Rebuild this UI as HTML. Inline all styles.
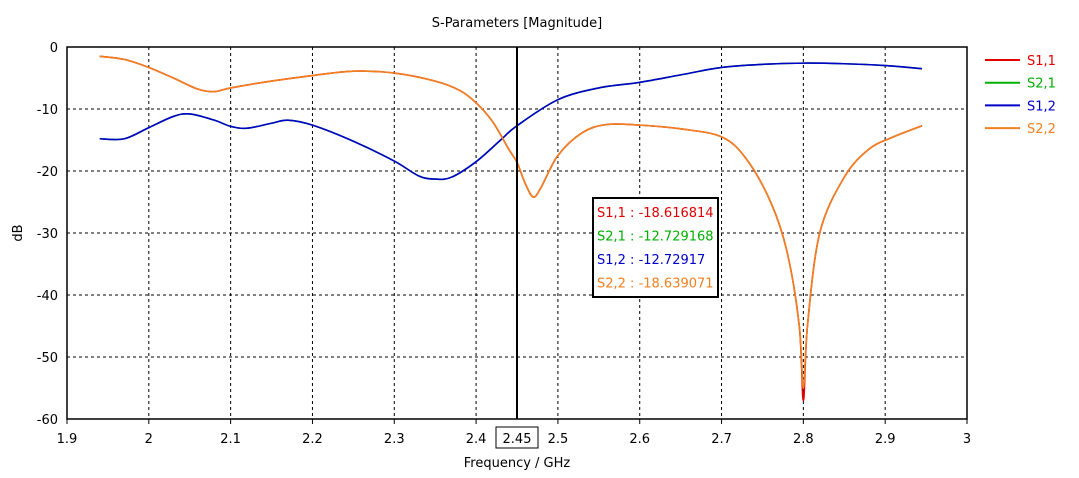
<!DOCTYPE html>
<html><head><meta charset="utf-8"><style>
body{margin:0;background:#fff;}
svg text{font-family:"DejaVu Sans","Liberation Sans",sans-serif;font-size:13px;}
</style></head><body>
<svg id="c" width="1079" height="473" viewBox="0 0 1079 473">
<rect width="1079" height="473" fill="#fff"/>
<text x="517" y="27" text-anchor="middle">S-Parameters [Magnitude]</text>
<text x="517" y="467" text-anchor="middle">Frequency / GHz</text>
<text transform="translate(22,233) rotate(-90)" text-anchor="middle">dB</text>
<g id="grid"></g>
<g id="series"></g>
<rect x="67" y="47" width="900" height="372" fill="none" stroke="#000" stroke-width="1.5"/>
<g id="ticks"></g>
<g id="legend"></g>
<g id="marker"></g>
</svg>
<script>
const xTicks=[1.9,2,2.1,2.2,2.3,2.4,2.5,2.6,2.7,2.8,2.9,3];
const yTicks=[0,-10,-20,-30,-40,-50,-60];
const seriesNames=["S1,1","S2,1","S1,2","S2,2"];
const seriesColors=["#e00000","#00b000","#0000c8","#f08020"];
const markerFreq=2.45;
const markerValues=["-18.616814","-12.729168","-12.72917","-18.639071"];
const freqA=[1.94,1.97,2.0,2.03,2.06,2.08,2.1,2.15,2.2,2.25,2.3,2.35,2.38,2.4,2.42,2.44,2.45,2.46,2.47,2.48,2.5,2.53,2.56,2.6,2.65,2.7,2.73,2.76,2.78,2.795,2.8,2.805,2.82,2.85,2.88,2.91,2.945];
const s22=[-1.5,-2.0,-3.3,-5.0,-6.8,-7.2,-6.6,-5.5,-4.6,-3.9,-4.2,-5.5,-7.0,-9.0,-12.0,-16.5,-18.6,-22,-24.2,-22.5,-17.5,-13.8,-12.5,-12.6,-13.2,-14.5,-18,-25,-33,-45,-55,-45,-30,-21,-16.5,-14.5,-12.7];
const s11=[-1.5,-2.0,-3.3,-5.0,-6.8,-7.2,-6.6,-5.5,-4.6,-3.9,-4.2,-5.5,-7.0,-9.0,-12.0,-16.5,-18.6,-22,-24.2,-22.5,-17.5,-13.8,-12.5,-12.6,-13.2,-14.5,-18,-25,-33,-45,-57,-45,-30,-21,-16.5,-14.5,-12.7];
const freqB=[1.94,1.97,2.0,2.03,2.05,2.08,2.1,2.12,2.15,2.17,2.2,2.25,2.3,2.33,2.35,2.37,2.4,2.43,2.45,2.5,2.55,2.6,2.65,2.7,2.75,2.8,2.85,2.9,2.945];
const s12=[-14.8,-14.8,-13,-11.2,-10.8,-11.8,-12.8,-13.1,-12.3,-11.8,-12.6,-15.2,-18.4,-20.8,-21.3,-21,-18.5,-15,-12.7,-8.5,-6.6,-5.7,-4.5,-3.3,-2.8,-2.6,-2.7,-3.0,-3.5];
const s21=s12.slice();

const NS="http://www.w3.org/2000/svg";
const X=f=>67+(f-1.9)/1.1*900;
const Y=v=>47+(-v)/60*372;
function mk(tag,attrs,parent){const e=document.createElementNS(NS,tag);for(const k in attrs)e.setAttribute(k,attrs[k]);parent.appendChild(e);return e;}
const grid=document.getElementById('grid'),ticks=document.getElementById('ticks');
xTicks.forEach(t=>{
  if(t>1.9&&t<3){const l=mk('line',{x1:X(t),x2:X(t),y1:47,y2:419,stroke:'#000','stroke-dasharray':'3,3','stroke-width':1},grid);
  
  }
  const tk=mk('line',{x1:X(t),x2:X(t),y1:419,y2:424,stroke:'#000'},ticks);
  
  
  const tx=mk('text',{x:X(t),y:443,'text-anchor':'middle'},ticks);tx.textContent=String(t);
  
  
});
yTicks.forEach(t=>{
  if(t<0&&t>-60){const l=mk('line',{x1:67,x2:967,y1:Y(t),y2:Y(t),stroke:'#000','stroke-dasharray':'3,3'},grid);
  
  }
  const tx=mk('text',{x:58,y:Y(t)+5,'text-anchor':'end'},ticks);tx.textContent=String(t);
  
  
});
function path(fs,vs){
  const p=fs.map((f,i)=>[X(f),Y(vs[i])]);
  let d=`M${p[0][0]},${p[0][1]}`;
  for(let i=0;i<p.length-1;i++){
    const p0=p[i-1]||p[i],p1=p[i],p2=p[i+1],p3=p[i+2]||p2;
    const c1=[p1[0]+(p2[0]-p0[0])/6,p1[1]+(p2[1]-p0[1])/6];
    const c2=[p2[0]-(p3[0]-p1[0])/6,p2[1]-(p3[1]-p1[1])/6];
    d+=`C${c1[0]},${c1[1]} ${c2[0]},${c2[1]} ${p2[0]},${p2[1]}`;
  }
  return d;
}
const sg=document.getElementById('series');
const data=[[freqA,s11],[freqB,s21],[freqB,s12],[freqA,s22]];
data.forEach((d,i)=>{
  const p=mk('path',{d:path(d[0],d[1]),fill:'none',stroke:seriesColors[i],'stroke-width':1.6},sg);
  
  
});
const lg=document.getElementById('legend');
seriesNames.forEach((n,i)=>{
  const y=60+i*22.7;
  const l=mk('line',{x1:985,x2:1020,y1:y,y2:y,stroke:seriesColors[i],'stroke-width':2},lg);
  
  
  const t=mk('text',{x:1027,y:y+5,fill:seriesColors[i]},lg);t.textContent=n;
  
  
});
const mg=document.getElementById('marker');
const ml=mk('line',{x1:X(markerFreq),x2:X(markerFreq),y1:47,y2:419,stroke:'#000','stroke-width':2},mg);


const mb=mk('rect',{x:X(markerFreq)-21,y:427,width:42,height:21,fill:'#fff',stroke:'#000'},mg);


const mt=mk('text',{x:X(markerFreq),y:443,'text-anchor':'middle'},mg);mt.textContent=String(markerFreq);


const bx=mk('rect',{x:593,y:198,width:125,height:99,fill:'#fff',stroke:'#000','stroke-width':2},mg);


seriesNames.forEach((n,i)=>{
  const t=mk('text',{x:597,y:217+i*23.5,fill:seriesColors[i]},mg);t.textContent=n+' : '+markerValues[i];
  
  
});
</script>
</body></html>
